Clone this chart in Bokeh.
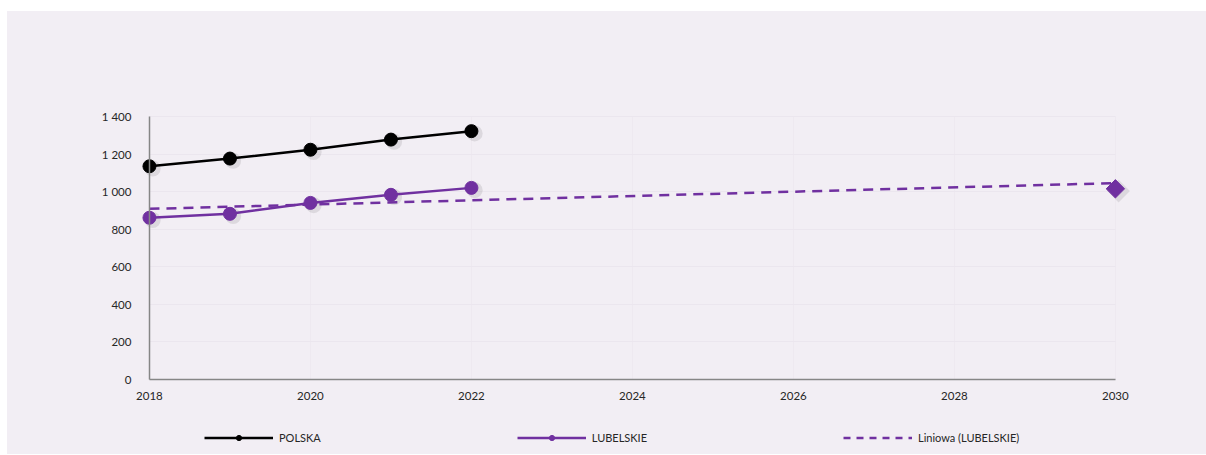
import numpy as np
from bokeh.plotting import figure
from bokeh.models import (Range1d, FixedTicker, CustomJSTickFormatter, Legend, LegendItem,
                          ColumnDataSource, Spacer)
from bokeh.transform import dodge
from bokeh.layouts import column, row
from bokeh.embed import file_html
from bokeh.resources import INLINE

# ---- data ----
years = [2018, 2019, 2020, 2021, 2022]
polska = [1135, 1176, 1223, 1277, 1322]
lubelskie = [861, 882, 940, 983, 1020]
target_year = [2030]
target_value = [1015]
x_ticks = [2018, 2020, 2022, 2024, 2026, 2028, 2030]
y_ticks = [0, 200, 400, 600, 800, 1000, 1200, 1400]
series_names = ["POLSKA", "LUBELSKIE", "Liniowa (LUBELSKIE)"]

BG = "#f2eef4"
PURPLE = "#7030a0"
TEXT = "#262626"
FONT = "Lato"
W = 1199

# linear trend fitted on all LUBELSKIE points (incl. 2030)
fit_x = np.array(years + target_year, dtype=float)
fit_y = np.array(lubelskie + target_value, dtype=float)
k, b = np.polyfit(fit_x, fit_y, 1)
trend_x = [min(fit_x), max(fit_x)]
trend_y = [k * t + b for t in trend_x]

# view padding so end markers and axis labels (drawn inside the frame) are not clipped
PAD_L, PAD_R = 0.72, 0.25
PAD_B, PAD_T = 154.4, 58.5
p = figure(width=W, height=404, output_backend="svg", toolbar_location=None,
           x_range=Range1d(x_ticks[0] - PAD_L, x_ticks[-1] + PAD_R),
           y_range=Range1d(y_ticks[0] - PAD_B, y_ticks[-1] + PAD_T),
           min_border_left=84, min_border_right=71, min_border_top=94, min_border_bottom=7)
p.background_fill_color = BG
p.border_fill_color = BG
p.outline_line_color = None

src_pl = ColumnDataSource(dict(x=years, y=polska))
src_lu = ColumnDataSource(dict(x=years, y=lubelskie))
src_t = ColumnDataSource(dict(x=target_year, y=target_value))
src_tr = ColumnDataSource(dict(x=trend_x, y=trend_y))

DIAMOND_ANGLE = np.pi / 4

# soft shadows
p.scatter(x=dodge("x", 0.04, range=p.x_range), y=dodge("y", -12, range=p.y_range), source=src_pl,
          size=16, marker="circle", color="#000000", alpha=0.09, line_color=None)
p.scatter(x=dodge("x", 0.04, range=p.x_range), y=dodge("y", -12, range=p.y_range), source=src_lu,
          size=16, marker="circle", color="#000000", alpha=0.09, line_color=None)
p.scatter(x=dodge("x", 0.04, range=p.x_range), y=dodge("y", -12, range=p.y_range), source=src_t,
          size=16, marker="square", angle=DIAMOND_ANGLE, color="#000000", alpha=0.09, line_color=None)

p.line("x", "y", source=src_tr, line_color=PURPLE, line_width=2.5, line_dash="10 7")
p.line("x", "y", source=src_pl, line_color="black", line_width=2.5)
p.scatter("x", "y", source=src_pl, size=13, marker="circle", color="black")
p.line("x", "y", source=src_lu, line_color=PURPLE, line_width=2.5)
p.scatter("x", "y", source=src_lu, size=13, marker="circle", color=PURPLE)
p.scatter("x", "y", source=src_t, size=13, marker="square", angle=DIAMOND_ANGLE, color=PURPLE)

# axes
for ax in (p.xaxis[0], p.yaxis[0]):
    ax.axis_line_color = "#868686"
    ax.axis_line_width = 1.5
    ax.major_tick_line_color = None
    ax.minor_tick_line_color = None
    ax.major_label_text_font = FONT
    ax.major_label_text_font_size = "11.5px"
    ax.major_label_text_color = TEXT
p.xaxis.ticker = FixedTicker(ticks=x_ticks)
p.yaxis.ticker = FixedTicker(ticks=y_ticks)
p.xaxis.bounds = (x_ticks[0], x_ticks[-1])
p.yaxis.bounds = (y_ticks[0], y_ticks[-1])
p.yaxis.fixed_location = x_ticks[0]
p.xaxis.fixed_location = y_ticks[0]
p.xaxis.major_label_standoff = 7
p.yaxis.major_label_standoff = 12
p.yaxis.formatter = CustomJSTickFormatter(code="""
    if (tick >= 1000) { return Math.floor(tick/1000) + ' ' + String(tick % 1000).padStart(3, '0'); }
    return String(tick);
""")

p.xgrid.ticker = FixedTicker(ticks=x_ticks)
p.ygrid.ticker = FixedTicker(ticks=y_ticks)
p.xgrid.cross_bounds = (y_ticks[0], y_ticks[-1])
p.ygrid.cross_bounds = (x_ticks[0], x_ticks[-1])
p.xgrid.grid_line_color = "#eee9f0"
p.ygrid.grid_line_color = "#ebe6ee"

# ---- legend strip (its sample glyphs lie outside the strip's view) ----
lg = figure(width=W, height=39, output_backend="svg", toolbar_location=None,
            x_range=Range1d(0, 1), y_range=Range1d(0, 1),
            min_border_left=0, min_border_right=0, min_border_top=0, min_border_bottom=0)
lg.axis.visible = False
lg.grid.visible = False
lg.background_fill_color = BG
lg.border_fill_color = BG
lg.outline_line_color = None

gl_pl = lg.line("x", "y", source=src_pl, line_color="black", line_width=2.5)
gs_pl = lg.scatter("x", "y", source=src_pl, size=9, marker="circle", color="black")
gl_lu = lg.line("x", "y", source=src_lu, line_color=PURPLE, line_width=2.5)
gs_lu = lg.scatter("x", "y", source=src_lu, size=9, marker="circle", color=PURPLE)
gl_tr = lg.line("x", "y", source=src_tr, line_color=PURPLE, line_width=2.5, line_dash="7 6")

legend = Legend(items=[
    LegendItem(label=series_names[0], renderers=[gl_pl, gs_pl]),
    LegendItem(label=series_names[1], renderers=[gl_lu, gs_lu]),
    LegendItem(label=series_names[2], renderers=[gl_tr]),
], location=(113, 10), orientation="horizontal")
legend.glyph_width = 69
legend.glyph_height = 13
legend.label_height = 13
legend.label_standoff = 6
legend.spacing = 196
legend.padding = 0
legend.margin = 0
legend.border_line_alpha = 0
legend.background_fill_alpha = 0
legend.label_text_font = FONT
legend.label_text_font_size = "11px"
legend.label_text_color = TEXT
lg.add_layout(legend, "center")

layout = column(Spacer(width=W, height=11),
                row(Spacer(width=7, height=443),
                    column(p, lg, styles={"background-color": BG})))
open("out.html", "w").write(file_html(layout, INLINE))
